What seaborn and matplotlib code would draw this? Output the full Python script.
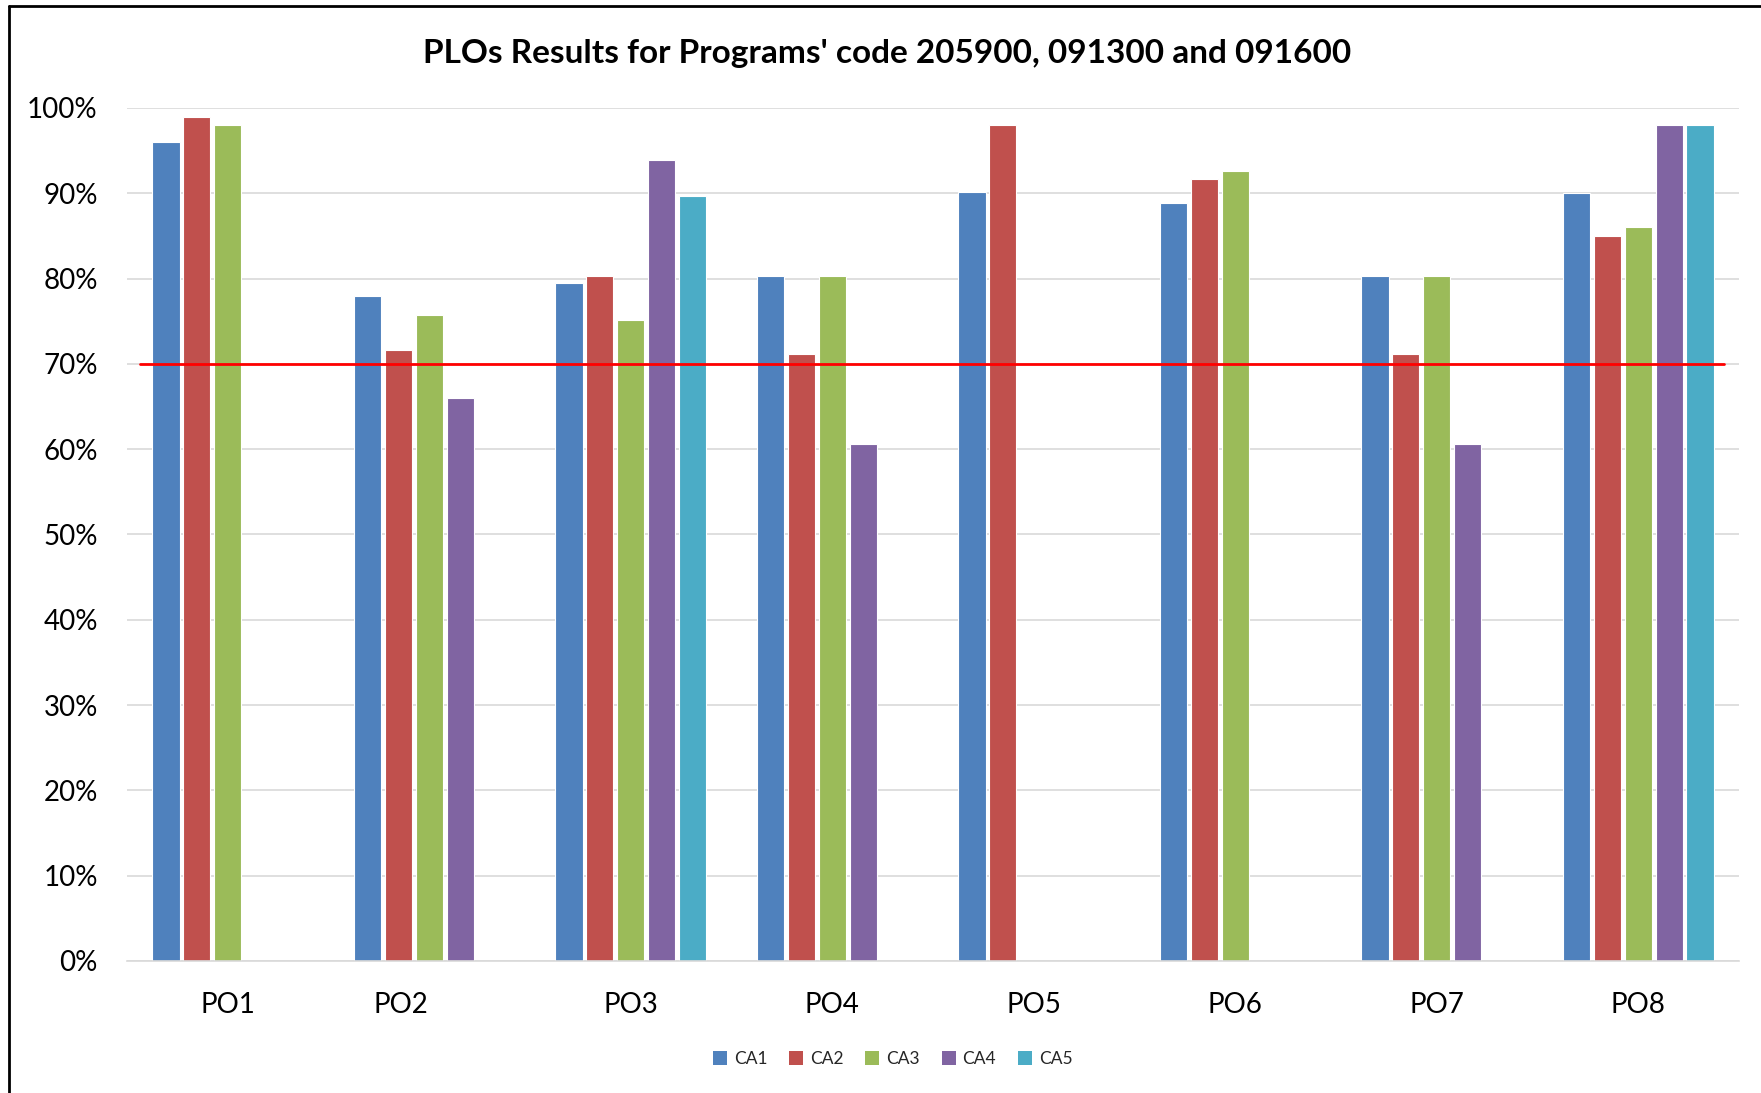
import numpy as np
import pandas as pd
import matplotlib
matplotlib.use("Agg")
import matplotlib.pyplot as plt
import matplotlib.transforms as mtransforms
from matplotlib.patches import Patch
import seaborn as sns

categories = ["PO1", "PO2", "PO3", "PO4", "PO5", "PO6", "PO7", "PO8"]
series = ["CA1", "CA2", "CA3", "CA4", "CA5"]
ca1 = [0.96, 0.779, 0.795, 0.803, 0.901, 0.889, 0.803, 0.900]
ca2 = [0.990, 0.716, 0.803, 0.712, 0.980, 0.917, 0.712, 0.850]
ca3 = [0.980, 0.757, 0.752, 0.803, np.nan, 0.926, 0.803, 0.860]
ca4 = [np.nan, 0.660, 0.939, 0.606, np.nan, np.nan, 0.606, 0.980]
ca5 = [np.nan, np.nan, 0.897, np.nan, np.nan, np.nan, np.nan, 0.980]
threshold = 0.70
title = "PLOs Results for Programs' code 205900, 091300 and 091600"
colors = ["#4F81BD", "#C0504D", "#9BBB59", "#8064A2", "#4BACC6"]

rows = []
for s, vals in zip(series, [ca1, ca2, ca3, ca4, ca5]):
    for c, v in zip(categories, vals):
        rows.append({"PO": c, "CA": s, "value": v})
df = pd.DataFrame(rows).dropna()

sns.set_theme(style="white")
plt.rcParams["font.family"] = ["Lato", "DejaVu Sans"]

fig = plt.figure(figsize=(17.61, 10.93), dpi=100)
ax = fig.add_axes([0.0721, 0.1208, 0.9154, 0.7804])

sns.barplot(data=df, x="PO", y="value", hue="CA", order=categories,
            hue_order=series, palette=colors, width=0.766, gap=0.12,
            edgecolor="white", linewidth=0.8, saturation=1, ax=ax,
            legend=False, errorbar=None)

ax.set_xlim(-0.5, len(categories) - 0.5)
ax.set_ylim(0, 1.0)
ax.set_yticks(np.arange(0, 1.01, 0.1))
ax.set_yticklabels([f"{int(round(t*100))}%" for t in np.arange(0, 1.01, 0.1)])
ax.yaxis.grid(True, color="#D9D9D9", linewidth=1.2)
ax.set_axisbelow(True)
for side in ["left", "right", "top"]:
    ax.spines[side].set_visible(False)
ax.spines["bottom"].set_color("#D9D9D9")
ax.spines["bottom"].set_linewidth(1.2)
ax.tick_params(axis="y", length=0, pad=21, labelsize=20, labelcolor="black")
ax.tick_params(axis="x", length=0, pad=22, labelsize=20, labelcolor="black")
ax.set_xlabel("")
ax.set_ylabel("")

# PO2 label sits slightly left in the reference
lbl = ax.get_xticklabels()[1]
lbl.set_transform(lbl.get_transform() + mtransforms.ScaledTranslation(-0.28, 0, fig.dpi_scale_trans))

ax.axhline(threshold, xmin=0.008, xmax=0.991, color="#FF0000", linewidth=2.0, zorder=5)

fig.text(0.504, 0.951, title, ha="center", va="center", fontsize=24,
         fontweight="bold", color="black")

handles = [Patch(facecolor=c, edgecolor="none") for c in colors]
fig.legend(handles, series, loc="center", bbox_to_anchor=(0.507, 0.031),
           ncol=5, frameon=False, fontsize=12.5, handlelength=0.8,
           handleheight=0.8, handletextpad=0.4, columnspacing=1.25)

# outer frame lines (left and top)
fig.add_artist(plt.Line2D([8.5/1761, 8.5/1761], [0, 1-6/1093], transform=fig.transFigure,
                          color="black", linewidth=2))
fig.add_artist(plt.Line2D([8.5/1761, 1], [1-6/1093, 1-6/1093], transform=fig.transFigure,
                          color="black", linewidth=2))

fig.savefig("out.png", dpi=100)
